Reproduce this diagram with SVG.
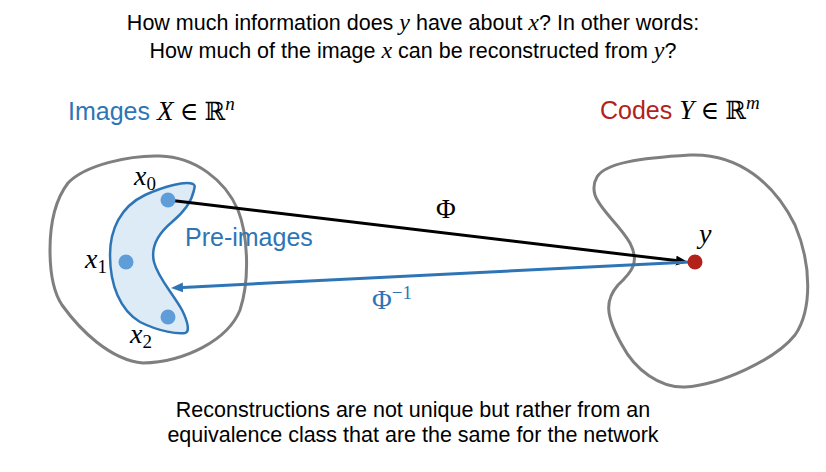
<svg xmlns="http://www.w3.org/2000/svg" width="826" height="472" viewBox="0 0 826 472">
<style>
.t{font-family:"Liberation Sans",Arial,sans-serif;font-size:21.5px;fill:#000}
.lbl{font-family:"Liberation Sans",Arial,sans-serif;font-size:25px}
.m{font-family:"Liberation Serif","DejaVu Serif",serif;font-style:italic}
.mu{font-family:"Liberation Serif","DejaVu Serif",serif;font-style:normal}
.space{fill:none;stroke:#7f7f7f;stroke-width:3}
.pre{fill:#ddebf7;stroke:#2e75b6;stroke-width:2.5}
.dot{fill:#5f9dd8}
.ydot{fill:#b2221b}
.var{font-family:"Liberation Serif","DejaVu Serif",serif;font-style:italic;font-size:28px;fill:#000}
.sub{font-size:19px;font-style:normal}
</style>
<defs>
<marker id="ahK" viewBox="0 0 12 10" markerWidth="12" markerHeight="10" refX="0" refY="5" orient="auto" markerUnits="userSpaceOnUse"><path d="M0,0 L12,5 L0,10 z" fill="#000"/></marker>
<marker id="ahB" viewBox="0 0 12 10" markerWidth="12" markerHeight="10" refX="0" refY="5" orient="auto" markerUnits="userSpaceOnUse"><path d="M0,0 L12,5 L0,10 z" fill="#2e75b6"/></marker>
</defs>
<rect width="826" height="472" fill="#fff"/>

<g id="title">
<text class="t" x="413" y="30" text-anchor="middle">How much information does <tspan class="m" font-size="24">y</tspan> have about <tspan class="m" font-size="24">x</tspan>? In other words:</text>
<text class="t" x="413" y="58" text-anchor="middle">How much of the image <tspan class="m" font-size="24">x</tspan> can be reconstructed from <tspan class="m" font-size="24">y</tspan>?</text>
</g>

<g id="images-space">
<path class="space" d="M50,250 C50,225 55,200 68,183 C85,165 130,155 160,156 C195,157 225,180 238,210 C248,235 250,280 240,310 C228,340 185,362 143,363 C110,360 80,330 62,305 C52,290 50,270 50,250 Z"/>
<text class="lbl" x="68" y="120"><tspan fill="#2e75b6">Images </tspan><tspan class="m" fill="#000" font-size="27">X</tspan><tspan class="mu" fill="#000"> ∈ ℝ</tspan><tspan class="m" fill="#000" font-size="19" dy="-10">n</tspan></text>
</g>

<g id="codes-space">
<path class="space" d="M597,177 C605,163 640,158 690,155 C740,153 775,185 795,225 C812,265 812,310 795,335 C775,360 720,385 685,387 C660,388 635,370 622,345 C605,315 605,300 618,285 C632,272 640,262 630,243 C620,225 600,210 595,195 C593,188 594,182 597,177 Z"/>
<text class="lbl" x="600" y="119"><tspan fill="#b2221b">Codes </tspan><tspan class="m" fill="#000" font-size="27">Y</tspan><tspan class="mu" fill="#000"> ∈ ℝ</tspan><tspan class="m" fill="#000" font-size="19" dy="-10">m</tspan></text>
</g>

<g id="pre-images">
<path class="pre" d="M193,184 C185,181 165,186 145,195 C120,207 110,230 110,255 C110,285 120,310 140,322 C160,332 178,334 185,333 C190,332 188,322 182,310 C172,292 158,278 154,262 C150,245 160,232 172,222 C184,212 192,200 194,190 C195,186 195,185 193,184 Z"/>
<text class="lbl" x="185" y="246" fill="#2e75b6" font-size="25.5">Pre-images</text>
</g>

<g id="connectors">
<line x1="168" y1="200" x2="676" y2="260.6" stroke="#000" stroke-width="3" marker-end="url(#ahK)"/>
<line x1="690" y1="262" x2="183" y2="287.4" stroke="#2e75b6" stroke-width="3" marker-end="url(#ahB)"/>
<text class="mu" x="436" y="218" font-size="27" fill="#000">Φ</text>
<text class="mu" x="372" y="309" font-size="27" fill="#2e75b6">Φ<tspan font-size="19" dy="-10">−1</tspan></text>
</g>

<g id="x0">
<circle class="dot" cx="168" cy="200" r="7.5"/>
<text class="var" x="134" y="185">x<tspan class="sub" dy="5">0</tspan></text>
</g>
<g id="x1">
<circle class="dot" cx="126" cy="262" r="7.5"/>
<text class="var" x="85" y="268">x<tspan class="sub" dy="5">1</tspan></text>
</g>
<g id="x2">
<circle class="dot" cx="168" cy="317" r="7.5"/>
<text class="var" x="130" y="343">x<tspan class="sub" dy="5">2</tspan></text>
</g>
<g id="y">
<circle class="ydot" cx="695" cy="262" r="7.5"/>
<text class="var" x="699" y="243">y</text>
</g>

<g id="caption">
<text class="t" x="413" y="417" text-anchor="middle">Reconstructions are not unique but rather from an</text>
<text class="t" x="413" y="442" text-anchor="middle">equivalence class that are the same for the network</text>
</g>
</svg>
